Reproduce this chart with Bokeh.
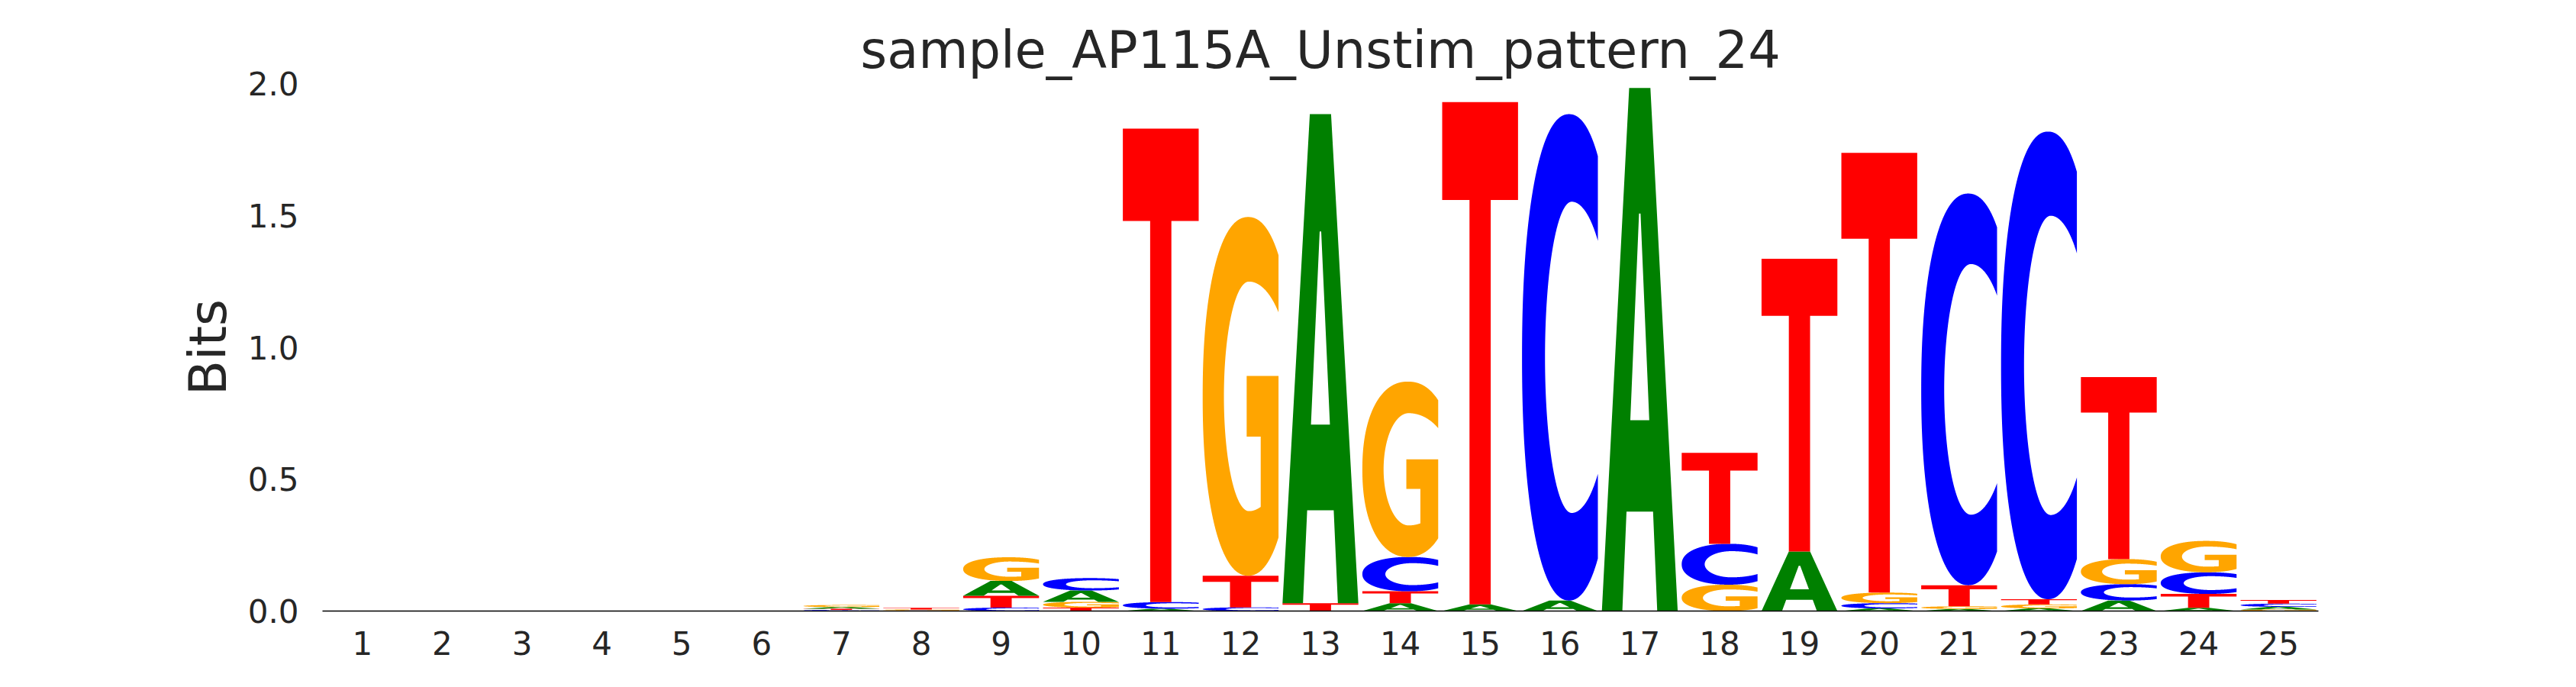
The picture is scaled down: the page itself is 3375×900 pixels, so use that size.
import numpy as np
from bokeh.plotting import figure
from bokeh.models import FixedTicker, NumeralTickFormatter, ColumnDataSource
from bokeh.embed import file_html
from bokeh.resources import INLINE

# ---------------- data (bits per letter per position) ----------------
positions = list(range(1, 26))
A_bits = [0, 0, 0, 0, 0, 0, 0.006, 0.0, 0.056, 0.043, 0.009, 0.0, 1.854, 0.03, 0.025,
          0.04, 1.983, 0.0, 0.226, 0.01, 0.008, 0.01, 0.04, 0.012, 0.01]
C_bits = [0, 0, 0, 0, 0, 0, 0.004, 0.002, 0.013, 0.047, 0.025, 0.014, 0.0, 0.13, 0.0,
          1.844, 0.0, 0.155, 0.0, 0.02, 1.485, 1.773, 0.062, 0.082, 0.012]
G_bits = [0, 0, 0, 0, 0, 0, 0.008, 0.004, 0.09, 0.022, 0.0, 1.36, 0.0, 0.665, 0.0,
          0.0, 0.0, 0.1, 0.0, 0.04, 0.01, 0.015, 0.095, 0.119, 0.006]
T_bits = [0, 0, 0, 0, 0, 0, 0.005, 0.006, 0.045, 0.013, 1.795, 0.12, 0.03, 0.045, 1.905,
          0.0, 0.0, 0.345, 1.11, 1.667, 0.08, 0.02, 0.69, 0.053, 0.014]
y_ticks = [0.0, 0.5, 1.0, 1.5, 2.0]
title_text = "sample_AP115A_Unstim_pattern_24"

letters = ["A", "C", "G", "T"]
values = {"A": A_bits, "C": C_bits, "G": G_bits, "T": T_bits}
colors = {"A": "#008000", "C": "#0000FF", "G": "#FFA500", "T": "#FF0000"}


# ---------------- letter outline templates (unit box) ----------------
def sellipse(cx, cy, rx_l, rx_r, ry, t, e=2.0):
    c = np.cos(t)
    s = np.sin(t)
    rx = np.where(c >= 0, rx_r, rx_l)
    x = cx + rx * np.sign(c) * np.abs(c) ** (2.0 / e)
    y = cy + ry * np.sign(s) * np.abs(s) ** (2.0 / e)
    return x, y


def clip_arc(x, y, xmax):
    idx = np.where(x <= xmax)[0]
    i0, i1 = idx[0], idx[-1]
    xs = list(x[i0:i1 + 1])
    ys = list(y[i0:i1 + 1])
    if i0 > 0:
        f = (xmax - x[i0 - 1]) / (x[i0] - x[i0 - 1])
        xs.insert(0, xmax)
        ys.insert(0, y[i0 - 1] + f * (y[i0] - y[i0 - 1]))
    if i1 < len(x) - 1:
        f = (xmax - x[i1]) / (x[i1 + 1] - x[i1])
        xs.append(xmax)
        ys.append(y[i1] + f * (y[i1 + 1] - y[i1]))
    return xs, ys


t = np.linspace(0, 2 * np.pi, 1441)

# C
ox, oy = sellipse(0.62, 0.5, 0.62, 0.62, 0.5, t, 2.2)
ox, oy = clip_arc(ox, oy, 1.0)
ix, iy = sellipse(0.655, 0.5, 0.352, 0.52, 0.32, t, 2.0)
ix, iy = clip_arc(ix, iy, 1.0)
C_tmpl = [(ox + ix[::-1], oy + iy[::-1])]

# G
gox, goy = sellipse(0.6, 0.5, 0.6, 0.6, 0.5, t, 2.2)
gox, goy = clip_arc(gox, goy, 1.0)
gix, giy = sellipse(0.61, 0.5, 0.33, 0.572, 0.32, t, 2.0)
start = np.where(gix <= 1.0)[0][0]
end = np.where((t > np.pi) & (gix > 0.765))[0][0] - 1
arc_x = [1.0] + list(gix[start:end + 1]) + [0.765]
arc_y = [float(giy[start])] + list(giy[start:end + 1]) + [float(giy[end])]
bar_x = [1.0, 1.0, 0.58, 0.58, 0.765]
bar_y = [goy[-1], 0.557, 0.557, 0.388, 0.388]
G_tmpl = [(gox + bar_x + arc_x[::-1], goy + bar_y + arc_y[::-1])]

# T
T_tmpl = [([0, 1, 1, 0.64, 0.64, 0.36, 0.36, 0],
           [1, 1, 0.805, 0.805, 0, 0, 0.805, 0.805])]

# A (exterior + hole)
A_tmpl = [([0, 0.36, 0.64, 1, 0.73, 0.675, 0.325, 0.27],
           [0, 1, 1, 0, 0, 0.19, 0.19, 0]),
          ([0.375, 0.49, 0.51, 0.625], [0.365, 0.76, 0.76, 0.365])]

templates = {"A": A_tmpl, "C": C_tmpl, "G": G_tmpl, "T": T_tmpl}

# ---------------- build stacked glyphs ----------------
w = 0.95
xs, ys, cols = [], [], []
for i, pos in enumerate(positions):
    col = [(values[L][i], k, L) for k, L in enumerate(letters) if values[L][i] > 0]
    col.sort()
    bottom = 0.0
    for h, _, L in col:
        rings_x, rings_y = [], []
        for rx_, ry_ in templates[L]:
            rings_x.append([pos - w / 2 + w * u for u in rx_])
            rings_y.append([bottom + h * v for v in ry_])
        xs.append([rings_x])
        ys.append([rings_y])
        cols.append(colors[L])
        bottom += h

src = ColumnDataSource(dict(xs=xs, ys=ys, color=cols))

# ---------------- figure ----------------
p = figure(width=3359, height=884, x_range=(0.5, 25.5), y_range=(0, 2.0),
           output_backend="svg", toolbar_location=None,
           min_border_left=422, min_border_right=322,
           min_border_top=109, min_border_bottom=84)
p.multi_polygons(xs="xs", ys="ys", fill_color="color", line_color=None, source=src)

p.title.text = title_text
p.title.align = "center"
p.title.text_font = "DejaVu Sans"
p.title.text_font_size = "67px"
p.title.text_font_style = "normal"
p.title.text_color = "#262626"

p.xgrid.visible = False
p.ygrid.visible = False
p.outline_line_color = None
p.background_fill_color = "white"
p.border_fill_color = "white"

xa = p.xaxis[0]
xa.ticker = FixedTicker(ticks=positions)
xa.major_tick_line_color = None
xa.minor_tick_line_color = None
xa.major_tick_in = 0
xa.major_tick_out = 0
xa.axis_line_color = "black"
xa.axis_line_width = 1.5
xa.major_label_standoff = 26
xa.major_label_text_font = "DejaVu Sans"
xa.major_label_text_font_size = "42px"
xa.major_label_text_color = "#262626"

ya = p.yaxis[0]
ya.ticker = FixedTicker(ticks=y_ticks)
ya.formatter = NumeralTickFormatter(format="0.0")
ya.axis_line_color = None
ya.major_tick_line_color = None
ya.minor_tick_line_color = None
ya.major_tick_in = 0
ya.major_tick_out = 0
ya.major_label_standoff = 31
ya.major_label_text_font = "DejaVu Sans"
ya.major_label_text_font_size = "42px"
ya.major_label_text_color = "#262626"
ya.axis_label = "Bits"
ya.axis_label_text_font = "DejaVu Sans"
ya.axis_label_text_font_size = "67px"
ya.axis_label_text_font_style = "normal"
ya.axis_label_text_color = "#262626"
ya.axis_label_standoff = 10

open("out.html", "w").write(file_html(p, INLINE))
